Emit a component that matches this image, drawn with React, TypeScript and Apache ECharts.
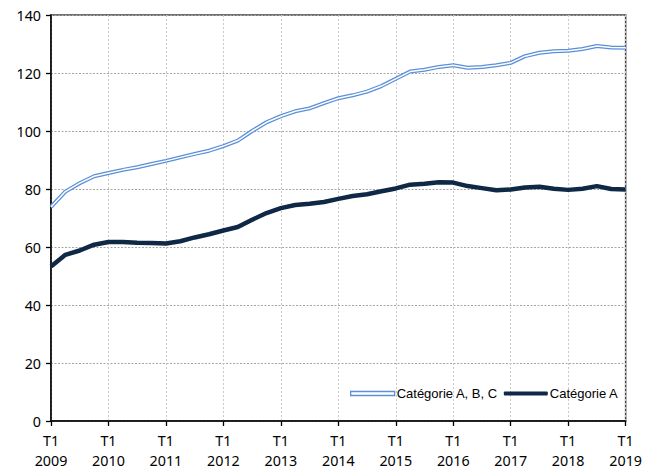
import React, { useEffect, useRef } from "react";
import * as echarts from "echarts";

const years = [2009, 2010, 2011, 2012, 2013, 2014, 2015, 2016, 2017, 2018, 2019];
const quarters = ["T1", "T2", "T3", "T4"];

const categories: string[] = [];
years.forEach((y) => {
  quarters.forEach((q) => {
    if (y < 2019 || q === "T1") categories.push(q + "\n" + y);
  });
});

const seriesABCName = "Catégorie A, B, C";
const seriesAName = "Catégorie A";

const seriesABC = [
  73.8, 79.1, 82.0, 84.4, 85.5, 86.6, 87.5, 88.6, 89.7, 90.9, 92.1, 93.2,
  94.8, 96.7, 100.0, 103.0, 105.1, 106.8, 107.8, 109.6, 111.3, 112.3, 113.6, 115.5,
  118.0, 120.5, 121.1, 122.1, 122.7, 121.8, 122.1, 122.7, 123.5, 125.8, 127.0, 127.5,
  127.7, 128.3, 129.3, 128.8, 128.7,
];

const seriesA = [
  53.3, 57.3, 58.8, 60.8, 61.7, 61.7, 61.5, 61.4, 61.2, 62.0, 63.3, 64.4,
  65.7, 66.9, 69.4, 71.7, 73.4, 74.5, 74.9, 75.5, 76.6, 77.6, 78.2, 79.2,
  80.2, 81.5, 81.8, 82.3, 82.2, 81.0, 80.3, 79.6, 79.8, 80.5, 80.8, 80.1,
  79.7, 80.1, 81.0, 80.0, 79.8,
];

const yMin = 0;
const yMax = 140;
const yStep = 20;

export default function App() {
  const ref = useRef<HTMLDivElement>(null);
  useEffect(() => {
    if (!ref.current) return;
    const chart = echarts.init(ref.current, null, { renderer: "svg" });
    const showYear = (i: number) => i % 4 === 0;
    chart.setOption({
      animation: false,
      backgroundColor: "#ffffff",
      grid: {
        left: 51,
        right: 18,
        top: 15,
        bottom: 47,
        show: true,
        borderColor: "#404040",
        borderWidth: 1.5,
        backgroundColor: "transparent",
      },
      legend: {
        data: [
          {
            name: seriesABCName,
            icon: "rect",
            itemStyle: { color: "#ffffff", borderColor: "#5b8fd8", borderWidth: 1.3 },
          },
          {
            name: seriesAName,
            icon: "roundRect",
            itemStyle: { color: "#0f2846", borderWidth: 0 },
          },
        ],
        left: 345,
        top: 382,
        itemWidth: 44,
        itemHeight: 4,
        itemGap: 6,
        selectedMode: false,
        textStyle: {
          fontFamily: "Liberation Sans, Arial, sans-serif",
          fontSize: 13,
          color: "#000000",
          padding: [0, 0, 0, -3],
        },
      },
      xAxis: {
        type: "category",
        data: categories,
        boundaryGap: false,
        axisLine: { show: true, lineStyle: { color: "#000000", width: 1.5 } },
        axisTick: {
          show: true,
          interval: (i: number) => showYear(i),
          length: 5,
          lineStyle: { color: "#000000", width: 1.3 },
        },
        axisLabel: {
          interval: (i: number) => showYear(i),
          fontFamily: "Noto Sans, sans-serif",
          fontSize: 14.3,
          color: "#000000",
          lineHeight: 20,
          margin: 9,
        },
        splitLine: {
          show: true,
          interval: (i: number) => showYear(i),
          lineStyle: { color: "#c8c8c8", type: [2, 2], width: 1 },
        },
      },
      yAxis: {
        type: "value",
        min: yMin,
        max: yMax,
        interval: yStep,
        axisLine: { show: true, lineStyle: { color: "#000000", width: 1.5 } },
        axisTick: { show: true, length: 5, lineStyle: { color: "#000000", width: 1.3 } },
        axisLabel: {
          fontFamily: "Noto Sans, sans-serif",
          fontSize: 14.3,
          color: "#000000",
          margin: 10,
        },
        splitLine: {
          show: true,
          lineStyle: { color: "#a6a6a6", type: [2, 1.5], width: 1 },
        },
      },
      series: [
        {
          name: seriesABCName,
          type: "line",
          data: seriesABC,
          symbol: "none",
          lineStyle: { color: "#5b8fd8", width: 4 },
          itemStyle: { color: "#5b8fd8" },
          z: 2,
        },
        {
          name: "abc-inner",
          type: "line",
          data: seriesABC,
          symbol: "none",
          lineStyle: { color: "#ffffff", width: 1.5 },
          itemStyle: { color: "#ffffff" },
          z: 3,
          silent: true,
        },
        {
          name: seriesAName,
          type: "line",
          data: seriesA,
          symbol: "none",
          lineStyle: { color: "#0f2846", width: 4.5 },
          itemStyle: { color: "#0f2846" },
          z: 4,
        },
      ],
    });
    return () => chart.dispose();
  }, []);
  return <div ref={ref} style={{ width: 645, height: 470, position: "absolute", left: 0, top: 0 }} />;
}
